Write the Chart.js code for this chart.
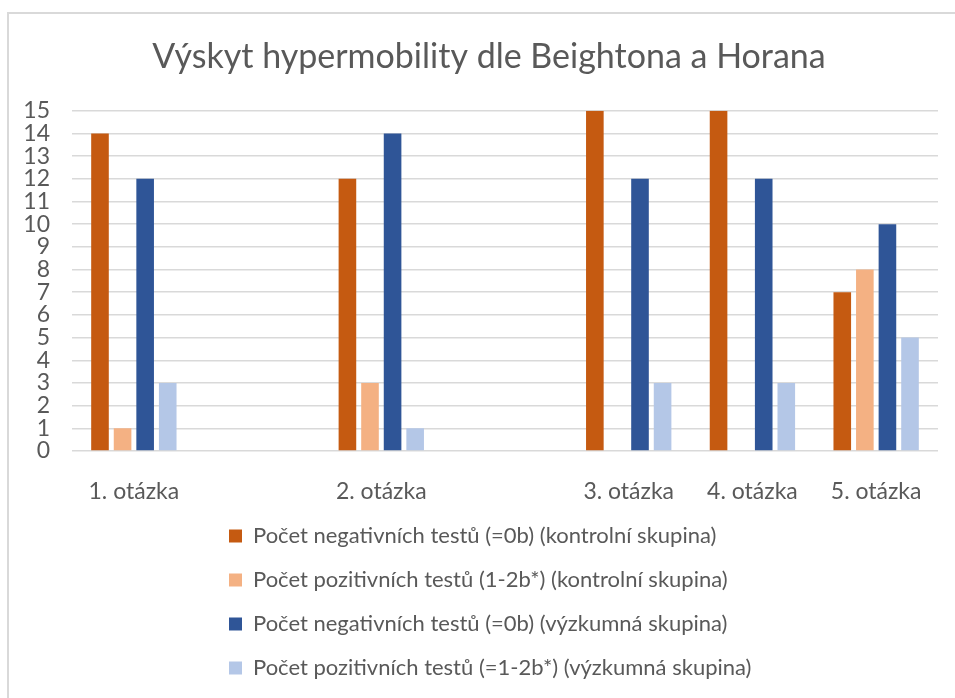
<!DOCTYPE html>
<html>
<head>
<meta charset="utf-8">
<script src="https://cdn.jsdelivr.net/npm/chart.js@4"></script>
<style>
  html, body { margin: 0; padding: 0; background: #fff; }
  #frame { position: absolute; left: 7px; top: 12px; width: 960px; height: 700px;
           border-left: 2px solid #d9d9d9; border-top: 2px solid #d9d9d9; }
  #wrap { position: absolute; left: 0; top: 0; width: 955px; height: 698px; }
</style>
</head>
<body>
<div id="frame"></div>
<div id="wrap"><canvas id="myChart"></canvas></div>
<script>
// categories (empty ones keep the gaps like in the excel chart)
var categories = ['1. otázka', '', '2. otázka', '', '3. otázka', '4. otázka', '5. otázka'];

var negKontrolni = [14, null, 12, null, 15, 15, 7];
var pozKontrolni = [1, null, 3, null, 0, 0, 8];
var negVyzkumna = [12, null, 14, null, 12, 12, 10];
var pozVyzkumna = [3, null, 1, null, 3, 3, 5];

var seriesNames = [
  'Počet negativních testů (=0b) (kontrolní skupina)',
  'Počet pozitivních testů (1-2b*) (kontrolní skupina)',
  'Počet negativních testů (=0b) (výzkumná skupina)',
  'Počet pozitivních testů (=1-2b*) (výzkumná skupina)'
];
var colors = ['#C55A11', '#F4B183', '#2F5597', '#B4C7E7'];

var yTicks = [0, 15];

var font = 'Lato';
var grey = '#595959';

// legend rows start on one left edge, title a bit right like in excel
var moveBoxes = {
  id: 'moveBoxes',
  afterUpdate: function(chart) {
    chart.legend.left = 207;
    chart.legend.top = 503;
    chart.titleBlock.left = 40;
  }
};

var ctx = document.getElementById('myChart');
new Chart(ctx, {
  type: 'bar',
  data: {
    labels: categories,
    datasets: [
      { label: seriesNames[0], data: negKontrolni, backgroundColor: colors[0] },
      { label: seriesNames[1], data: pozKontrolni, backgroundColor: colors[1] },
      { label: seriesNames[2], data: negVyzkumna, backgroundColor: colors[2] },
      { label: seriesNames[3], data: pozVyzkumna, backgroundColor: colors[3] }
    ]
  },
  plugins: [moveBoxes],
  options: {
    responsive: true,
    maintainAspectRatio: false,
    animation: false,
    datasets: { bar: { barPercentage: 0.78, categoryPercentage: 0.73 } },
    layout: { padding: { top: 14, right: 17, left: 0, bottom: 0 } },
    scales: {
      x: {
        grid: { display: false },
        border: { display: false },
        ticks: { color: grey, font: { family: font, size: 23 }, padding: 19, maxRotation: 0, autoSkip: false },
        afterFit: function(scale) { scale.height = 61; }
      },
      y: {
        min: yTicks[0],
        max: yTicks[1],
        grid: { color: '#d9d9d9', lineWidth: 1.5, drawTicks: false },
        border: { display: false },
        ticks: { stepSize: 1, autoSkip: false, color: grey, font: { family: font, size: 23 }, padding: 22 },
        afterFit: function(scale) { scale.width = 72; }
      }
    },
    plugins: {
      title: {
        display: true,
        text: 'Výskyt hypermobility dle Beightona a Horana',
        color: grey,
        font: { family: font, size: 34, weight: 'normal' },
        padding: { top: 23, bottom: 33 }
      },
      legend: {
        position: 'bottom',
        align: 'start',
        labels: {
          color: grey,
          font: { family: font, size: 22 },
          boxWidth: 13,
          boxHeight: 13,
          padding: 22
        }
      },
      tooltip: { enabled: false }
    }
  }
});
</script>
</body>
</html>
